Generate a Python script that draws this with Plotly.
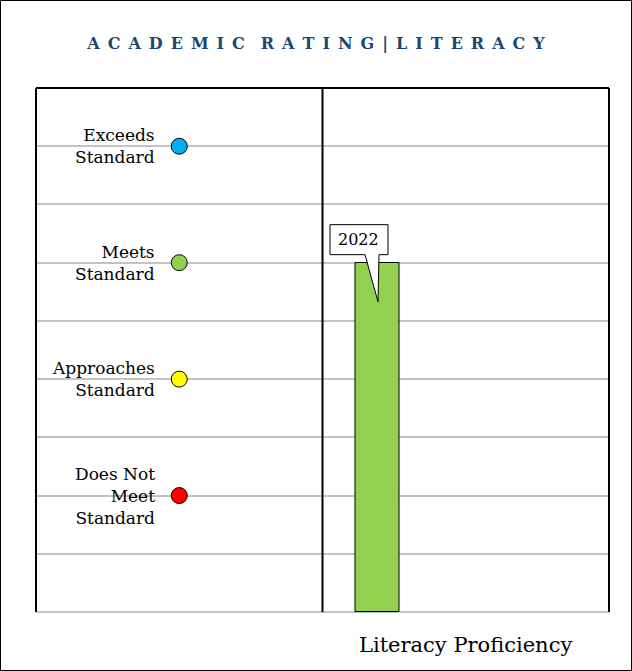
import plotly.graph_objects as go
from plotly.subplots import make_subplots

# rating levels shown on the left panel
level_labels = ["Does Not<br>Meet<br>Standard", "Approaches<br>Standard",
                "Meets<br>Standard", "Exceeds<br>Standard"]
level_values = [1, 2, 3, 4]
level_colors = ["#ff0000", "#ffff00", "#92d050", "#00b0f0"]

# literacy proficiency by year
years = ["2022"]
scores = [3]
bar_colors = ["#92d050"]

title_text = "ACADEMIC RATING|LITERACY"
x_title = "Literacy Proficiency"

SERIF = "DejaVu Serif"


def spaced(text):
    # mimic letter-spacing with en spaces
    words = text.split(" ")
    return ("\u2002" * 2).join("\u2002".join(w) for w in words)


fig = make_subplots(rows=1, cols=2, shared_yaxes=True, horizontal_spacing=0)

fig.add_trace(go.Scatter(
    x=[0.5] * len(level_values), y=level_values, mode="markers",
    marker=dict(size=16, color=level_colors, line=dict(color="black", width=1)),
    hoverinfo="skip", showlegend=False), row=1, col=1)

fig.add_trace(go.Bar(
    x=years, y=scores, width=0.5,
    marker=dict(color=bar_colors, line=dict(color="black", width=1)),
    showlegend=False), row=1, col=2)

for lab, val in zip(level_labels, level_values):
    fig.add_annotation(x=0.5, y=val, xref="x", yref="y", text=lab,
                       showarrow=False, xanchor="right", yanchor="middle",
                       xshift=-22, align="right",
                       font=dict(family=SERIF, size=17, color="black"))

# callout for the year label
for i, (yr, sc) in enumerate(zip(years, scores)):
    fig.add_shape(type="path", xref="x2", yref="y",
                  xsizemode="pixel", ysizemode="pixel",
                  xanchor=i, yanchor=sc,
                  path="M -47.5,38 L 10.5,38 L 10.5,8 L 1.5,8 L 0.5,-39 L -12.5,8 L -47.5,8 Z",
                  fillcolor="white", line=dict(color="black", width=1))
    fig.add_annotation(x=i, y=sc, xref="x2", yref="y", text=yr,
                       showarrow=False, xshift=-18.5, yshift=23,
                       xanchor="center", yanchor="middle",
                       font=dict(family=SERIF, size=16, color="black"))

fig.add_annotation(x=0.75, y=-0.063, xref="paper", yref="paper", text=x_title,
                   showarrow=False, xanchor="center", yanchor="middle",
                   font=dict(family=SERIF, size=21, color="black"))

# panel borders
for x0, x1, y0, y1 in [(0, 0, 0, 1), (0, 1, 1, 1), (1, 1, 0, 1), (0.5, 0.5, 0, 1)]:
    fig.add_shape(type="line", xref="paper", yref="paper",
                  x0=x0, x1=x1, y0=y0, y1=y1,
                  line=dict(color="black", width=2))

# outer frame
fig.add_shape(type="rect", xref="paper", yref="paper",
              x0=(0.5 - 36) / 573, x1=(631.5 - 36) / 573,
              y0=(612 - 670.5) / 524, y1=(612 - 0.5) / 524,
              line=dict(color="black", width=1))

grid = dict(showgrid=True, gridcolor="#c3c3c3", gridwidth=2,
            zeroline=True, zerolinecolor="#c3c3c3", zerolinewidth=2,
            range=[0, 4.5], dtick=0.5, tick0=0, showticklabels=False,
            ticks="", showline=False)
fig.update_yaxes(**grid)
fig.update_xaxes(showgrid=False, zeroline=False, showticklabels=False,
                 ticks="", showline=False)
fig.update_xaxes(range=[0, 1], row=1, col=1)
fig.update_xaxes(type="category", range=[-0.625, 2.631], row=1, col=2)

fig.update_layout(
    width=632, height=671,
    margin=dict(l=36, r=23, t=88, b=59),
    paper_bgcolor="white", plot_bgcolor="white",
    title=dict(text=spaced(title_text),
               x=0.5, xref="container", xanchor="center",
               y=1 - 43 / 671, yref="container", yanchor="middle",
               font=dict(family=SERIF, size=16, weight="bold", color="#1b4772")),
    bargap=0,
)

fig.write_html("out.html", config={"displayModeBar": False},
               post_script="document.body.style.margin='0';")
